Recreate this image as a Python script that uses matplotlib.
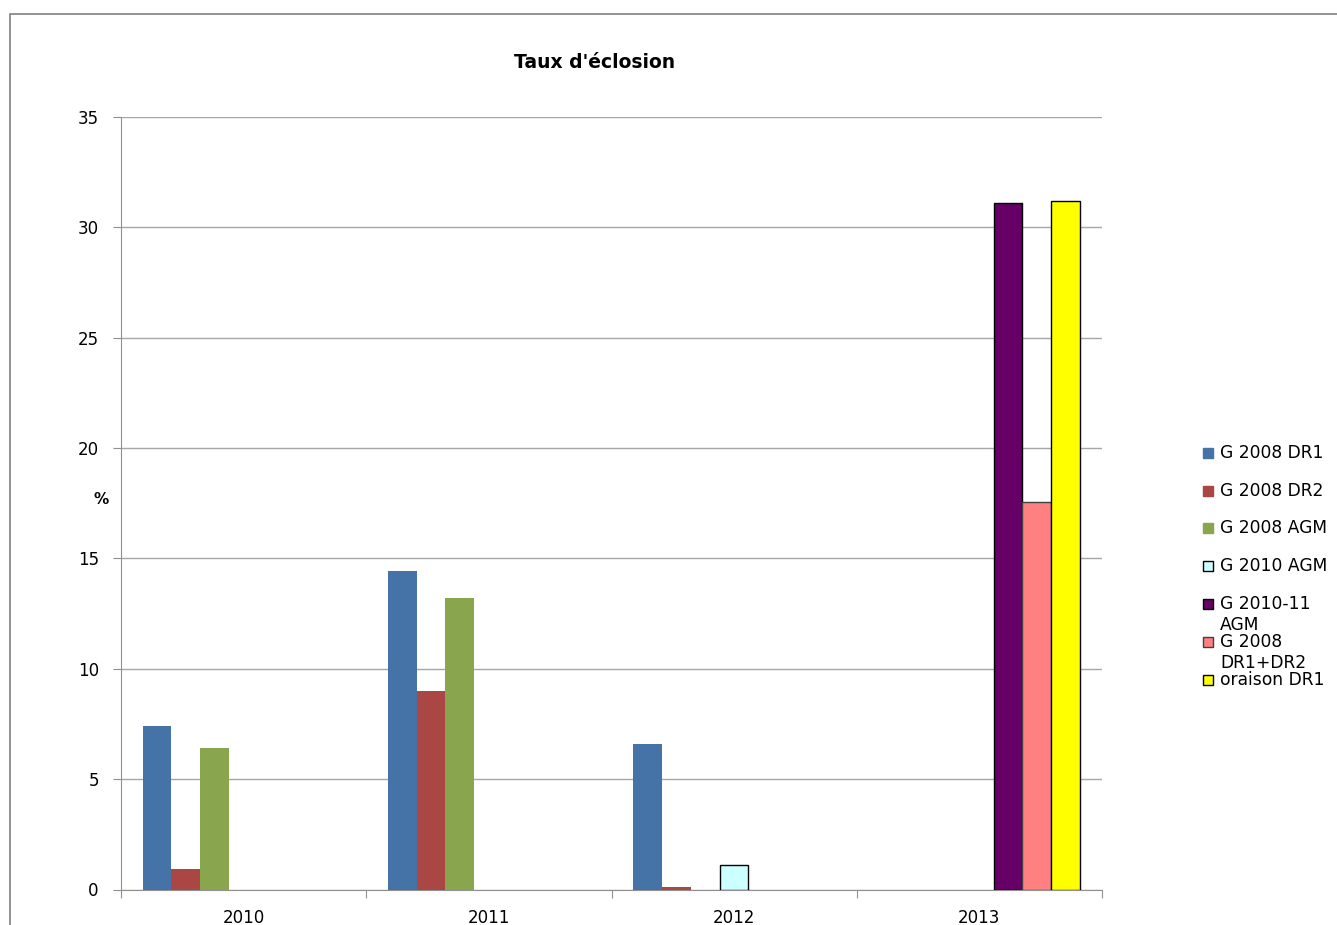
import numpy as np
import matplotlib.pyplot as plt
from matplotlib.patches import Rectangle

# data
years = ['2010', '2011', '2012', '2013']
series_names = ['G 2008 DR1', 'G 2008 DR2', 'G 2008 AGM', 'G 2010 AGM',
                'G 2010-11\nAGM', 'G 2008\nDR1+DR2', 'oraison DR1']
g2008_dr1 = [7.4, 14.45, 6.57, 0]
g2008_dr2 = [0.92, 8.98, 0.1, 0]
g2008_agm = [6.39, 13.19, 0, 0]
g2010_agm = [0, 0, 1.1, 0]
g2010_11_agm = [0, 0, 0, 31.09]
g2008_dr1dr2 = [0, 0, 0, 17.57]
oraison_dr1 = [0, 0, 0, 31.21]
all_values = [g2008_dr1, g2008_dr2, g2008_agm, g2010_agm,
              g2010_11_agm, g2008_dr1dr2, oraison_dr1]

colors = ['#4572A7', '#AA4643', '#89A54E', '#CCFFFF', '#660066', '#FF8080', '#FFFF00']
edges = [None, None, None, 'black', 'black', '#404040', 'black']

fig = plt.figure(figsize=(13.37, 9.25), dpi=100)
ax = fig.add_axes([121/1337, 1 - 889.5/925, (1102-121)/1337, (889.5-117)/925])

# outer chart-area border (goes off the right and bottom edges)
fig.patches.append(Rectangle((10/1337, -0.1), 1.2, 1.1 - 13.5/925, transform=fig.transFigure,
                             fill=False, edgecolor='#808080', linewidth=1.2))

bw = 0.1175
x = np.arange(len(years))
for i, vals in enumerate(all_values):
    pos = x - 0.5 + 0.088 + bw * i + bw / 2
    vals = np.array(vals, dtype=float)
    mask = vals > 0
    ax.bar(pos[mask], vals[mask], width=bw, color=colors[i],
           edgecolor=edges[i] if edges[i] else 'none', linewidth=1.0 if edges[i] else 0,
           zorder=3)

ax.set_xlim(-0.5, 3.5)
ax.set_ylim(0, 35)
ax.set_yticks(range(0, 36, 5))
ax.yaxis.grid(True, color='#A6A6A6', linewidth=1)
ax.set_axisbelow(True)
for s in ['top', 'right']:
    ax.spines[s].set_visible(False)
ax.spines['left'].set_color('#909090')
ax.spines['bottom'].set_color('#909090')
ax.set_xticks(np.arange(-0.5, 3.6, 1))
ax.set_xticklabels([])
ax.set_xticks(x, minor=True)
ax.set_xticklabels(years, minor=True, fontsize=12)
ax.tick_params(axis='x', which='minor', length=0, pad=14)
ax.tick_params(axis='x', which='major', length=6, color='#909090', direction='out')
ax.tick_params(axis='y', length=6, color='#909090', labelsize=12, pad=10)

fig.text(101/1337, 1 - 500/925, '%', fontsize=11, fontweight='bold', ha='center', va='center')
fig.text(595/1337, 1 - 62/925, "Taux d'éclosion", fontsize=13.5, fontweight='bold',
         ha='center', va='center')

# legend, laid out like the Excel original
leg_y = [453, 491, 528, 566, 604, 642, 680]
for i, name in enumerate(series_names):
    yy = leg_y[i]
    fig.patches.append(Rectangle((1203/1337, 1 - (yy + 5)/925), 10/1337, 10/925,
                                 transform=fig.transFigure, facecolor=colors[i],
                                 edgecolor=edges[i] if edges[i] else colors[i],
                                 linewidth=1.0))
    lines = name.split('\n')
    for j, ln in enumerate(lines):
        fig.text(1220/1337, 1 - (yy + j * 21)/925, ln, fontsize=12.3,
                 ha='left', va='center')

fig.savefig('out.png', dpi=100)
